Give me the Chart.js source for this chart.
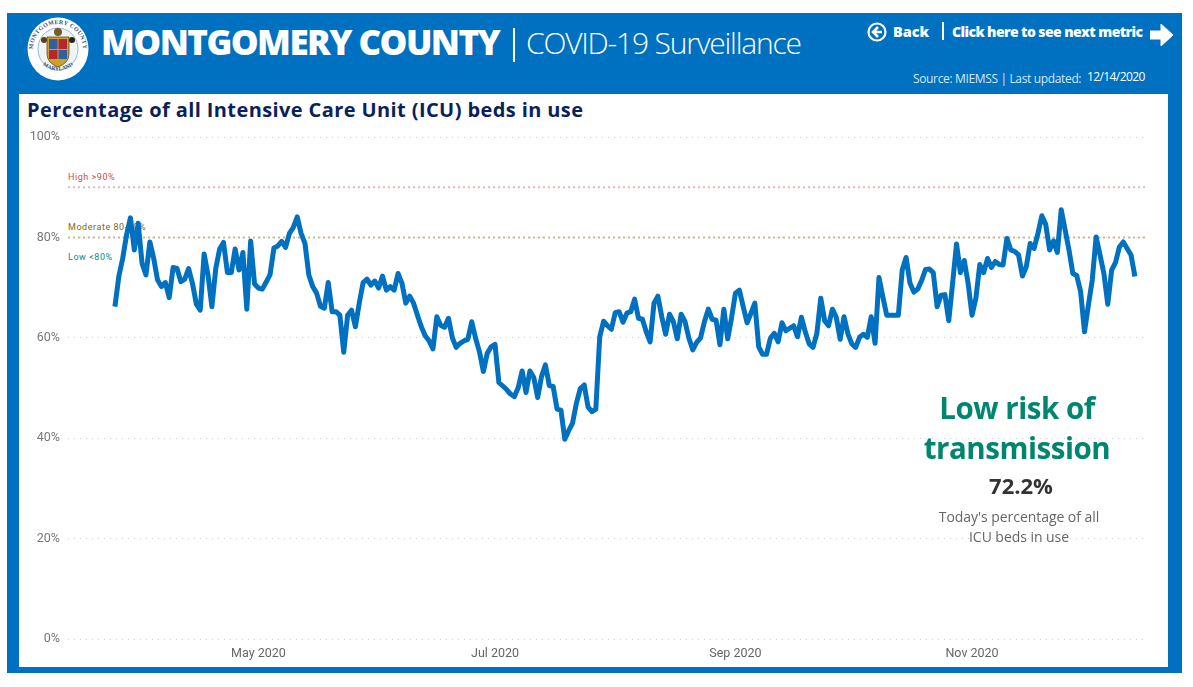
<!DOCTYPE html>
<html>
<head>
<meta charset="utf-8">
<title>ICU beds in use</title>
<script src="https://cdn.jsdelivr.net/npm/chart.js@4"></script>
<style>
html,body{margin:0;padding:0;background:#fff;width:1193px;height:687px;overflow:hidden}
#frame{position:absolute;left:7px;top:13px;width:1175px;height:660px;background:#0070c0}
#panel{position:absolute;left:19px;top:94px;width:1149px;height:573px;background:#fff}
.t{position:absolute;white-space:nowrap;font-family:"Open Sans",sans-serif;line-height:1}
.top{z-index:2}
canvas{position:absolute;left:0;top:0;z-index:1}
svg{position:absolute}
</style>
</head>
<body>
<div id="frame"></div>
<div id="panel"></div>

<svg style="left:26px;top:16px" width="64" height="66" viewBox="0 0 64 66">
  <ellipse cx="32" cy="33" rx="30.5" ry="31.5" fill="#fff"/>
  <ellipse cx="32" cy="33" rx="20" ry="21" fill="#eef4f6" stroke="#7fa9c4" stroke-width="0.8"/>
  <path id="arcTop" d="M7 33 A25 25 0 0 1 57 33" fill="none"/>
  <path id="arcBot" d="M10 40 A24 24 0 0 0 54 40" fill="none"/>
  <text font-family="Liberation Serif" font-size="6" font-weight="bold" fill="#33507a" letter-spacing="0.3"><textPath href="#arcTop" startOffset="50%" text-anchor="middle">MONTGOMERY COUNTY</textPath></text>
  <text font-family="Liberation Serif" font-size="5.6" font-weight="bold" fill="#33507a"><textPath href="#arcBot" startOffset="50%" text-anchor="middle">MARYLAND</textPath></text>
  <path d="M21 21 H43 V38 Q43 47 32 51 Q21 47 21 38 Z" fill="#c9a227" stroke="#6b4a17" stroke-width="0.8"/>
  <rect x="23" y="23" width="8.5" height="10" fill="#2f5f9e"/>
  <rect x="32.5" y="23" width="8.5" height="10" fill="#b3272d"/>
  <rect x="23" y="34" width="8.5" height="9" fill="#b3272d"/>
  <rect x="32.5" y="34" width="8.5" height="9" fill="#2f5f9e"/>
  <circle cx="32" cy="16" r="4" fill="#7a5a2a"/>
  <circle cx="18" cy="24" r="3" fill="#5a3d1f"/>
  <circle cx="46" cy="24" r="3" fill="#222"/>
</svg>

<div class="t" style="left:101px;top:24px;font-size:35px;font-weight:800;color:#fff;letter-spacing:-1.55px">MONTGOMERY COUNTY</div>
<div style="position:absolute;left:513px;top:28px;width:2px;height:34px;background:#fff"></div>
<div class="t" style="left:526px;top:28px;font-size:30px;font-weight:300;color:#fff;letter-spacing:-1.2px">COVID-19 Surveillance</div>

<svg style="left:867px;top:22px" width="20" height="20" viewBox="0 0 20 20">
  <circle cx="10" cy="10" r="8.5" fill="none" stroke="#fff" stroke-width="2.2"/>
  <path d="M11 5 L6 10 L11 15 M6 10 H15" fill="none" stroke="#fff" stroke-width="2.6"/>
</svg>
<div class="t" style="left:893px;top:25px;font-size:14.5px;font-weight:800;color:#fff">Back</div>
<div style="position:absolute;left:942px;top:22px;width:1.5px;height:18px;background:#fff"></div>
<div class="t" style="left:952px;top:25px;font-size:14px;font-weight:800;color:#fff;letter-spacing:-0.58px">Click here to see next metric</div>
<svg style="left:1150px;top:23px" width="23" height="24" viewBox="0 0 23 24">
  <path d="M0 8 H11 V1 L23 12 L11 23 V16 H0 Z" fill="#fff" stroke="#fff" stroke-width="1"/>
</svg>
<div class="t" style="left:913px;top:73px;font-size:12px;color:#d7e8f5;letter-spacing:-0.35px">Source: MIEMSS | Last updated:</div>
<div class="t" style="left:1087px;top:71px;font-size:12px;color:#fff;letter-spacing:-0.6px">12/14/2020</div>

<div class="t" style="left:27px;top:100px;font-size:20px;font-weight:700;color:#0b1f5c;letter-spacing:0.4px">Percentage of all Intensive Care Unit (ICU) beds in use</div>

<div class="t" style="left:68px;top:173px;font-size:9px;font-family:Roboto;color:#c0504d;letter-spacing:0.55px">High &gt;90%</div>
<div class="t" style="left:68px;top:223px;font-size:9px;font-family:Roboto;color:#7a6a2a;letter-spacing:0.55px">Moderate 80-90%</div>
<div class="t" style="left:68px;top:253px;font-size:9px;font-family:Roboto;color:#118a78;letter-spacing:0.55px">Low &lt;80%</div>

<div class="t top" style="left:867px;width:300px;text-align:center;top:388px;font-size:29.5px;font-weight:700;color:#00866f;line-height:40px;letter-spacing:-0.45px">Low risk of<br>transmission</div>
<div class="t top" style="left:921px;width:200px;text-align:center;top:474px;font-size:22px;font-weight:700;color:#333">72.2%</div>
<div class="t top" style="left:869px;width:300px;text-align:center;top:507px;font-size:14px;color:#666;line-height:20px;letter-spacing:-0.05px">Today's percentage of all<br>ICU beds in use</div>

<canvas id="c" width="1193" height="687"></canvas>

<script>
// Days counted from 25 Mar 2020
const tickDays = [37, 98, 160, 221];
const tickLabels = ['May 2020', 'Jul 2020', 'Sep 2020', 'Nov 2020'];
const yTicks = [0, 20, 40, 60, 80, 100];
const highThreshold = 90;
const moderateThreshold = 80;
const icuPct = [
66.2,72.2,75.8,80.5,83.9,77.5,82.8,74.8,72.5,79.1,75.8,71.5,70.2,71.0,68.0,74.0,73.8,71.2,71.7,73.8,
70.8,66.7,65.5,76.7,72.5,66.2,73.8,77.7,79.0,73.0,73.0,77.7,73.5,77.0,65.7,79.3,70.7,69.9,69.7,71.1,
72.6,77.9,78.3,79.2,78.0,80.8,82.0,84.1,80.8,78.8,72.5,70.2,68.9,66.3,65.9,71.0,65.2,65.2,64.5,57.1,
64.5,65.5,62.2,66.9,71.0,71.7,70.5,71.3,69.9,72.3,69.5,70.2,69.5,72.8,70.9,66.9,68.3,66.9,64.5,62.2,
60.4,59.4,57.8,64.2,62.5,62.1,63.9,60.0,58.1,58.9,59.4,59.7,63.2,59.9,57.2,53.3,56.9,58.2,58.7,51.1,
50.4,49.7,48.8,48.3,50.1,53.4,49.1,53.4,52.1,48.1,52.3,54.6,50.5,50.3,45.8,45.6,39.8,41.5,43.0,47.0,
49.9,50.6,46.2,45.3,45.8,60.2,63.3,62.4,61.7,65.0,65.2,63.1,64.9,65.2,67.7,63.9,63.7,61.2,59.2,66.9,
68.3,64.2,60.7,64.7,63.2,59.8,64.7,63.2,59.9,57.6,59.1,60.0,63.2,65.7,63.7,63.5,58.6,65.7,59.8,64.0,
68.9,69.5,66.2,63.0,64.9,66.9,58.2,56.7,56.7,59.9,60.9,59.2,63.0,61.4,61.9,62.4,60.2,64.1,61.2,58.8,
58.1,60.9,67.9,63.4,62.4,65.7,64.1,59.7,64.2,60.8,58.8,58.1,60.1,60.7,60.1,64.2,58.9,72.0,68.2,64.5,
64.5,64.5,64.5,73.5,76.0,70.9,69.1,69.7,71.4,73.6,73.7,73.0,66.2,68.5,68.6,63.4,70.9,78.7,73.0,75.4,
70.8,64.5,67.9,74.6,73.0,75.8,74.0,75.2,74.6,74.5,79.8,77.5,77.2,76.5,72.3,74.2,78.8,77.8,80.8,84.3,
82.6,77.5,79.3,77.0,85.5,81.5,77.5,72.8,72.4,69.2,61.2,66.5,71.5,80.1,76.5,72.8,66.7,73.5,75.0,78.1,
79.1,77.8,76.5,72.2
];

const xMin = -12.1, xMax = 265.6;

new Chart(document.getElementById('c'), {
  type: 'line',
  data: {
    datasets: [
      {
        label: 'High',
        data: [{x: xMin, y: highThreshold}, {x: xMax, y: highThreshold}],
        borderColor: '#e9b7bb', borderWidth: 2, borderDash: [2, 3], pointRadius: 0, order: 3
      },
      {
        label: 'Moderate',
        data: [{x: xMin, y: moderateThreshold}, {x: xMax, y: moderateThreshold}],
        borderColor: '#cdb88f', borderWidth: 2, borderDash: [2, 3], pointRadius: 0, order: 2
      },
      {
        label: 'ICU beds in use',
        data: icuPct.map((v, i) => ({x: i, y: v})),
        borderColor: '#0070c0', borderWidth: 5, pointRadius: 0, tension: 0,
        borderJoinStyle: 'round', borderCapStyle: 'butt', order: 1
      }
    ]
  },
  options: {
    responsive: false,
    animation: false,
    parsing: false,
    layout: {padding: {left: 0, right: 48, top: 137, bottom: 22}},
    plugins: {legend: {display: false}, tooltip: {enabled: false}},
    scales: {
      x: {
        type: 'linear', min: xMin, max: xMax,
        afterBuildTicks: s => { s.ticks = tickDays.map(v => ({value: v})); },
        afterFit: s => { s.height = 26; },
        grid: {display: false},
        border: {display: false},
        ticks: {
          autoSkip: false, maxRotation: 0, padding: -1,
          color: '#666', font: {family: 'Roboto', size: 12.5},
          callback: v => tickLabels[tickDays.indexOf(v)]
        }
      },
      y: {
        min: 0, max: 100,
        afterBuildTicks: s => { s.ticks = yTicks.map(v => ({value: v})); },
        afterFit: s => { s.width = 68; },
        border: {display: false, dash: [1, 5]},
        grid: {color: '#cfcfcf', lineWidth: 1, drawTicks: false},
        ticks: {
          color: '#777', font: {family: 'Roboto', size: 12.5}, padding: 8,
          callback: v => v + '%'
        }
      }
    }
  }
});
</script>
</body>
</html>
